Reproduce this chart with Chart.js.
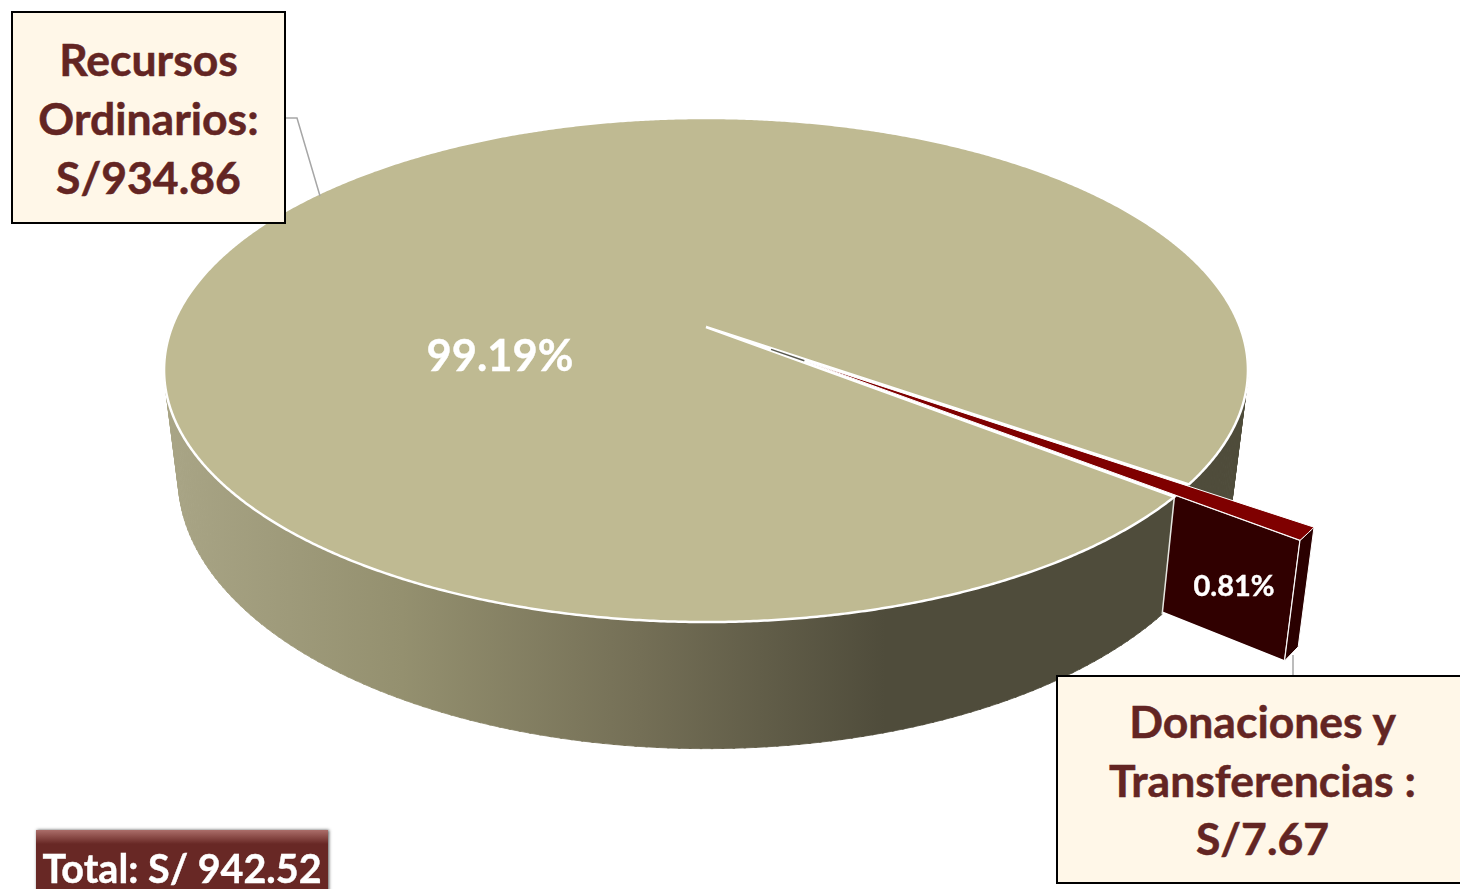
<!DOCTYPE html>
<html>
<head>
<meta charset="utf-8">
<title>Recursos</title>
<script src="https://cdn.jsdelivr.net/npm/chart.js@4"></script>
<style>
  html, body { margin: 0; padding: 0; background: #fff; overflow: hidden; }
  #wrap { position: relative; width: 1460px; height: 889px; overflow: hidden; font-family: Lato, sans-serif; font-weight: 700; }
  canvas { position: absolute; left: 0; top: 0; }
  .box { position: absolute; box-sizing: border-box; background: #fff7e8; border: 2px solid #000; color: #632523; text-align: center; font-size: 44.5px; line-height: 59px; -webkit-text-stroke: 0.5px #632523; white-space: nowrap; }
  .pct { position: absolute; color: #fff; transform: translate(-50%, -50%); white-space: nowrap; -webkit-text-stroke: 0.4px #fff; }
  #total { position: absolute; left: 36px; top: 830px; width: 292px; height: 70px; box-sizing: border-box; color: #fff; text-align: center; -webkit-text-stroke: 0.4px #fff;
           font-size: 39.5px; line-height: 75px; background: linear-gradient(#ab6e6a 0, #8f504c 6px, #682825 14px); box-shadow: 1px 0 3px #555; white-space: nowrap; }
</style>
</head>
<body>
<div id="wrap">
  <canvas id="myChart" width="1460" height="889"></canvas>
  <div class="box" id="box0" style="left:11px;top:11px;width:275px;height:213px;padding-top:16px"></div>
  <div class="box" id="box1" style="left:1056px;top:675px;width:420px;height:209px;padding:15px 7px 0 0;line-height:58.5px"></div>
  <div class="pct" id="pct0" style="left:500px;top:354px;font-size:43.5px"></div>
  <div class="pct" id="pct1" style="left:1234px;top:584px;font-size:29px"></div>
  <div id="total"></div>
</div>
<script>
var categories = ['Recursos Ordinarios', 'Donaciones y Transferencias'];
var values = [934.86, 7.67];
var percents = ['99.19%', '0.81%'];
var calloutLines = [['Recursos', 'Ordinarios:', 'S/934.86'], ['Donaciones y', 'Transferencias :', 'S/7.67']];
var totalLabel = 'Total: S/ 942.52';
var sliceColors = ['#bfba92', '#7f0000'];

// perspective of the disc
const K = 0.1706, TILT = 244.7 / 534, SINK = 0.974, DEPTH = 105;

document.getElementById('box0').innerHTML = calloutLines[0].join('<br>');
document.getElementById('box1').innerHTML = calloutLines[1].join('<br>');
document.getElementById('pct0').textContent = percents[0];
document.getElementById('pct1').textContent = percents[1];
document.getElementById('total').textContent = totalLabel;

function top3d(arc, a, r) {
  const R = arc.outerRadius;
  const mid = (arc.startAngle + arc.endAngle) / 2;
  const off = arc.options.offset || 0;
  const u = (r * Math.cos(a) + off * Math.cos(mid)) / R;
  const v = (r * Math.sin(a) + off * Math.sin(mid)) / R;
  const w = 1 - K * v;
  return { x: arc.x + R * u / w, y: arc.y + TILT * R * v / w, w: w };
}

function bottom3d(arc, a, r) {
  const p = top3d(arc, a, r);
  return { x: arc.x + (p.x - arc.x) * SINK, y: p.y + DEPTH / p.w };
}

function poly(ctx, pts, fill, stroke, lw) {
  ctx.beginPath();
  pts.forEach((p, i) => i ? ctx.lineTo(p.x, p.y) : ctx.moveTo(p.x, p.y));
  ctx.closePath();
  if (fill) { ctx.fillStyle = fill; ctx.fill(); }
  if (stroke) { ctx.strokeStyle = stroke; ctx.lineWidth = lw; ctx.stroke(); }
}

function rim(arc, from, to) {
  const n = Math.max(2, Math.ceil(Math.abs(to - from) * 180));
  const pts = [];
  for (let i = 0; i <= n; i++) pts.push(top3d(arc, from + (to - from) * i / n, arc.outerRadius));
  return pts;
}

// wall between two angles, thin quads so the silhouette comes out right
function wall(ctx, arc, from, to, fill) {
  const step = Math.PI / 180;
  for (let a = from; a < to; a += step) {
    const b = Math.min(a + step * 1.2, to);
    if (Math.sin(a) < -0.05) continue;
    const R = arc.outerRadius;
    poly(ctx, [top3d(arc, a, R), top3d(arc, b, R), bottom3d(arc, b, R), bottom3d(arc, a, R)], fill, fill, 0.8);
  }
}

const disc3d = {
  id: 'disc3d',
  beforeDatasetDraw(chart, args) {
    const ctx = chart.ctx;
    const arcs = chart.getDatasetMeta(args.index).data;
    const main = arcs[0], piece = arcs[1];
    const R = main.outerRadius;
    const zero = Math.PI * 2;

    const grad = ctx.createLinearGradient(165, 0, 885, 0);
    grad.addColorStop(0, '#a9a586');
    grad.addColorStop(0.33, '#94906f');
    grad.addColorStop(0.66, '#746f56');
    grad.addColorStop(1, '#4f4c3b');

    // wall behind the piece, right side
    wall(ctx, main, zero - 0.1, main.endAngle, '#4f4c3b');

    // side and end of the piece
    const e = piece.endAngle, s = piece.startAngle, pr = piece.outerRadius;
    poly(ctx, [top3d(piece, e, 0), top3d(piece, e, pr), bottom3d(piece, e, pr), bottom3d(piece, e, 0)], '#300000', '#fff', 1.5);
    const endFace = rim(piece, s, e);
    const endBottom = [bottom3d(piece, e, pr), bottom3d(piece, s, pr)];
    poly(ctx, endFace.concat(endBottom), '#2a0000', '#fff', 1);

    // front wall, from the cut round to the left
    wall(ctx, main, main.startAngle, Math.PI + 0.1, grad);
    poly(ctx, [top3d(main, main.startAngle, R), bottom3d(main, main.startAngle, R)], null, '#e6e6e0', 1.5);

    // gap left by the piece
    poly(ctx, [top3d(main, 0, 0)].concat(rim(main, main.endAngle, main.startAngle + zero)), '#fff');

    // top of the big slice
    const face = [top3d(main, 0, 0)].concat(rim(main, main.startAngle, main.endAngle));
    poly(ctx, face, main.options.backgroundColor, '#fff', 2.5);

    // bit of the cut wall seen through the gap
    const gapMid = (piece.startAngle + piece.endAngle) / 2;
    poly(ctx, [top3d(main, gapMid, R * 0.15), top3d(main, gapMid, R * 0.225)], null, '#5a5a50', 1.5);

    // top of the piece
    poly(ctx, [top3d(piece, s, 0)].concat(rim(piece, s, e)), piece.options.backgroundColor, '#fff', 1);
    return false;
  },
  afterDraw(chart) {
    const ctx = chart.ctx;
    ctx.strokeStyle = '#a6a6a6';
    ctx.lineWidth = 1.5;
    ctx.beginPath();
    ctx.moveTo(285, 118); ctx.lineTo(297, 118); ctx.lineTo(320, 196);
    ctx.moveTo(1293, 655); ctx.lineTo(1293, 676);
    ctx.stroke();
  }
};

new Chart(document.getElementById('myChart'), {
  type: 'pie',
  plugins: [disc3d],
  data: {
    labels: categories,
    datasets: [{
      data: values,
      backgroundColor: sliceColors,
      borderWidth: 0,
      offset: [0, 123]
    }]
  },
  options: {
    responsive: false,
    animation: false,
    rotation: 128.35,
    radius: 534,
    layout: { padding: { left: 0, right: 48, top: 0, bottom: 235 } },
    plugins: { legend: { display: false }, tooltip: { enabled: false } }
  }
});
</script>
</body>
</html>
